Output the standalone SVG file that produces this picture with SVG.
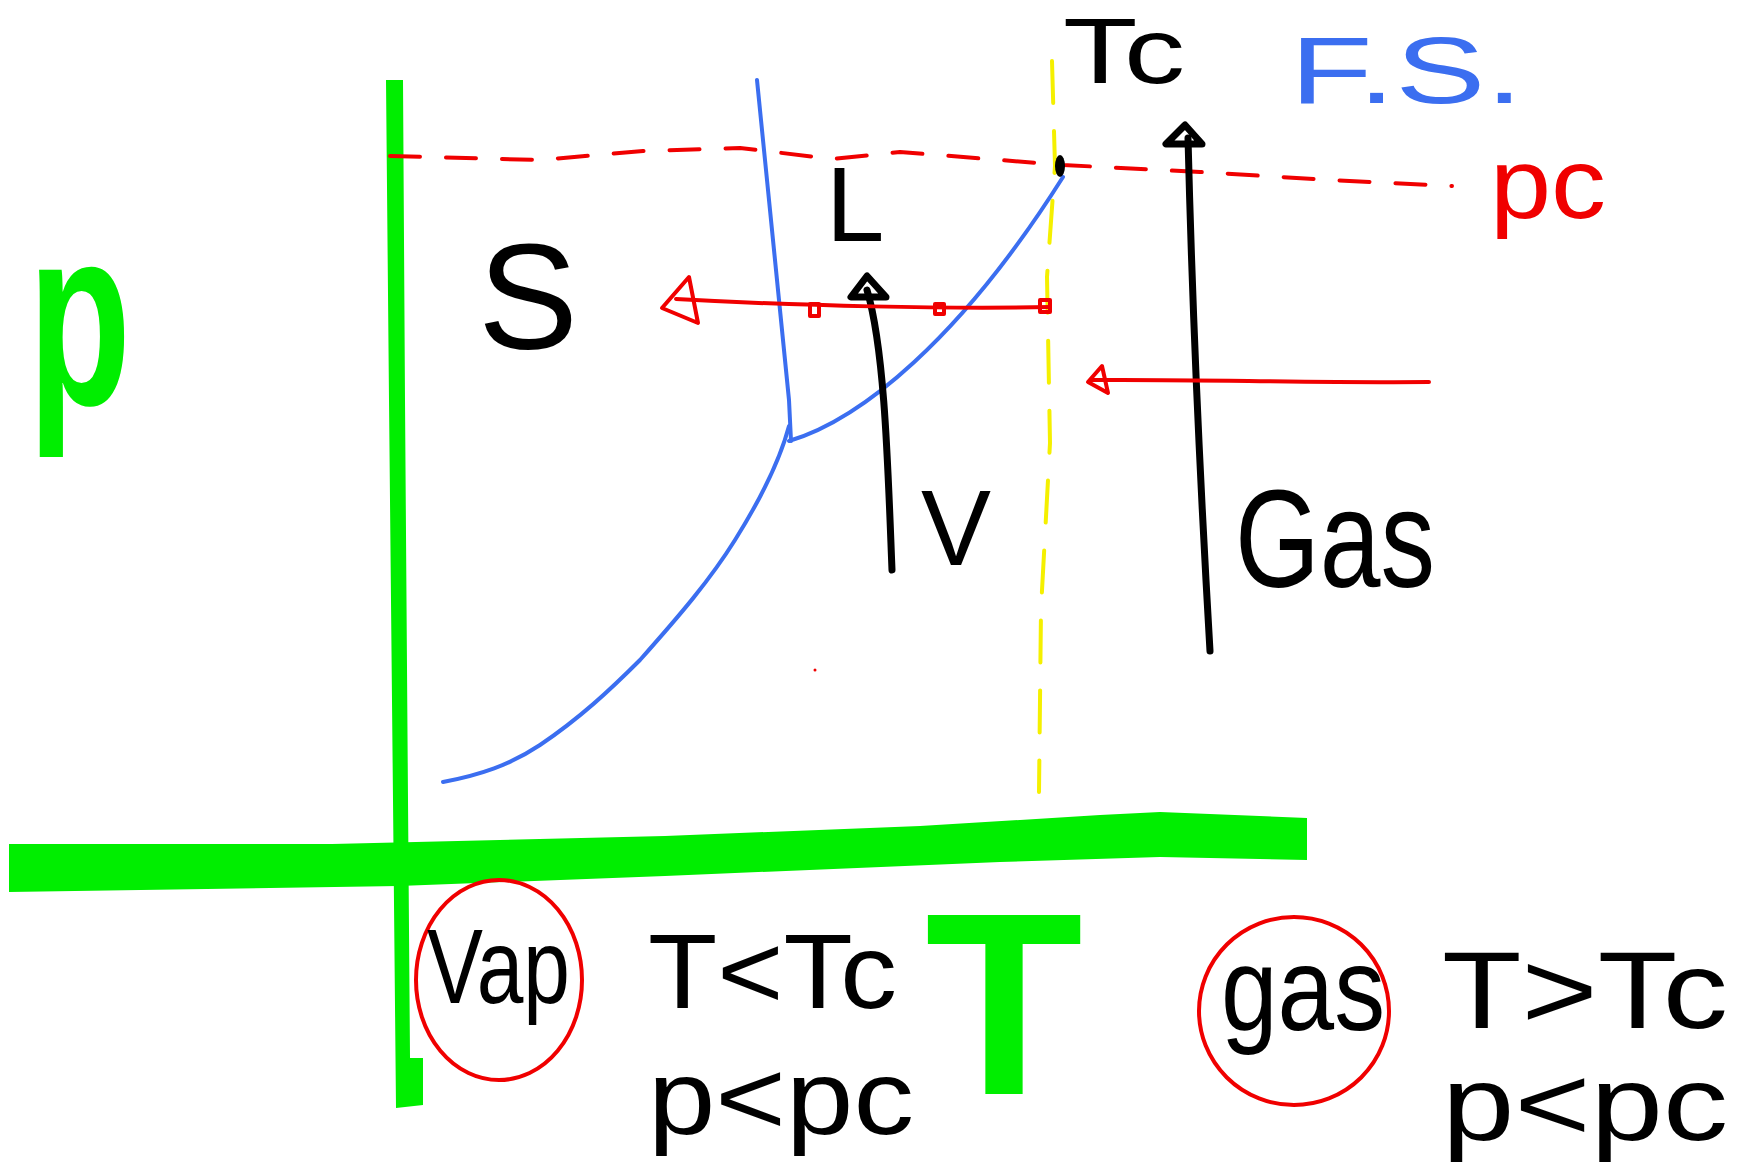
<svg xmlns="http://www.w3.org/2000/svg" width="1737" height="1170" viewBox="0 0 1737 1170">
<style>
.ink{font-family:"Liberation Sans","DejaVu Sans",sans-serif;fill:#000}
.blue{fill:#3b6ef0}
.red{fill:#f00000}
.green{fill:#00ee00;font-family:"Liberation Sans",sans-serif;font-weight:bold}
.ln{fill:none;stroke-linecap:round;stroke-linejoin:round}
.bl{stroke:#3b6ef0;stroke-width:4}
.rd{stroke:#f00000;stroke-width:4}
.bk{stroke:#000;stroke-width:7}
</style>
<rect width="1737" height="1170" fill="#fff"/>
<g id="axes">
<path d="M386,80 L403,80 L405,400 L408,800 L410,1058 L423,1058 L423,1105 L396,1108 L393,800 L389,400 Z" fill="#00ee00"/>
<path d="M9,844 L332,844 L665,836 L920,826 L1100,815 L1160,812 L1307,818 L1307,860 L1160,857 L1000,862 L665,876 L399,886 L9,892 Z" fill="#00ee00"/>
</g>
<g id="axis-p"><text class="green" x="28" y="404" font-size="255" textLength="103" lengthAdjust="spacingAndGlyphs">p</text></g>
<g id="axis-T"><text class="green" x="925" y="1094" font-size="260" textLength="158" lengthAdjust="spacingAndGlyphs">T</text></g>
<g id="connectors">
<polyline class="ln" stroke="#f00000" stroke-width="4" stroke-dasharray="30 26" points="390,156 540,160 643,151 740,148 833,159 900,152 1063,165 1200,172 1330,180 1452,186"/>
<polyline class="ln" stroke="#f5f000" stroke-width="4" stroke-dasharray="42 28" points="1052,61 1055,166 1047,277 1050,443 1041,609 1039,792"/>
<path class="ln bl" d="M757,80 Q775,260 789,400 L791,441"/>
<path class="ln bl" d="M443,782 C480,775 510,765 540,745 C580,718 610,690 640,660 C680,615 710,580 735,540 C760,500 780,460 789,426"/>
<path class="ln bl" d="M789,441 C860,420 960,340 1063,177"/>
<ellipse cx="1060" cy="166" rx="5" ry="11" fill="#000"/>
<path class="ln bk" d="M892,570 C888,470 885,350 867,290"/>
<polygon class="ln bk" stroke-width="6" points="851,297 886,297 867,276"/>
<path class="ln bk" d="M1210,651 C1200,480 1192,300 1188,138"/>
<polygon class="ln bk" stroke-width="6" points="1166,144 1202,144 1185,125"/>
<path class="ln rd" d="M1050,307 C950,309 800,306 676,299"/>
<polygon class="ln rd" points="662,308 689,277 698,323"/>
<rect x="810" y="304" width="9" height="12" class="ln rd" stroke-width="3"/>
<rect x="935" y="304" width="9" height="10" class="ln rd" stroke-width="3"/>
<rect x="1040" y="300" width="10" height="12" class="ln rd" stroke-width="3"/>
<path class="ln rd" d="M1429,382 C1300,383 1200,379 1091,380"/>
<polygon class="ln rd" points="1088,382 1102,366 1108,393"/>
<circle cx="815" cy="670" r="1.5" fill="#f00000"/>
</g>
<g id="label-S"><text class="ink" x="478" y="349" font-size="150">S</text></g>
<g id="label-L"><text class="ink" x="826" y="241" font-size="105">L</text></g>
<g id="label-V"><text class="ink" x="921" y="565" font-size="108" textLength="70" lengthAdjust="spacingAndGlyphs">V</text></g>
<g id="label-Gas"><text class="ink" x="1235" y="587" font-size="140" textLength="200" lengthAdjust="spacingAndGlyphs">Gas</text></g>
<g id="label-Tc"><text class="ink" x="1063" y="83" font-size="92" textLength="122" lengthAdjust="spacingAndGlyphs">Tc</text></g>
<g id="label-FS"><text class="blue" font-family="Liberation Sans, sans-serif" x="1290" y="103" font-size="95" textLength="233" lengthAdjust="spacingAndGlyphs">F.S.</text></g>
<g id="label-pc"><text class="red" font-family="Liberation Sans, sans-serif" x="1490" y="218" font-size="100" textLength="116" lengthAdjust="spacingAndGlyphs">pc</text></g>
<g id="vap">
<ellipse cx="499" cy="980" rx="83" ry="100" class="ln rd" stroke-width="3.5"/>
<text class="ink" x="427" y="1003" font-size="105" textLength="143" lengthAdjust="spacingAndGlyphs">Vap</text>
</g>
<g id="cond-vap">
<text class="ink" x="648" y="1008" font-size="105" textLength="249" lengthAdjust="spacingAndGlyphs">T&lt;Tc</text>
<text class="ink" x="648" y="1134" font-size="105" textLength="266" lengthAdjust="spacingAndGlyphs">p&lt;pc</text>
</g>
<g id="gas">
<ellipse cx="1294" cy="1011" rx="95" ry="94" class="ln rd" stroke-width="3.5"/>
<text class="ink" x="1221" y="1030" font-size="118" textLength="164" lengthAdjust="spacingAndGlyphs">gas</text>
</g>
<g id="cond-gas">
<text class="ink" x="1442" y="1028" font-size="110" textLength="286" lengthAdjust="spacingAndGlyphs">T&gt;Tc</text>
<text class="ink" x="1442" y="1140" font-size="105" textLength="286" lengthAdjust="spacingAndGlyphs">p&lt;pc</text>
</g>
</svg>
